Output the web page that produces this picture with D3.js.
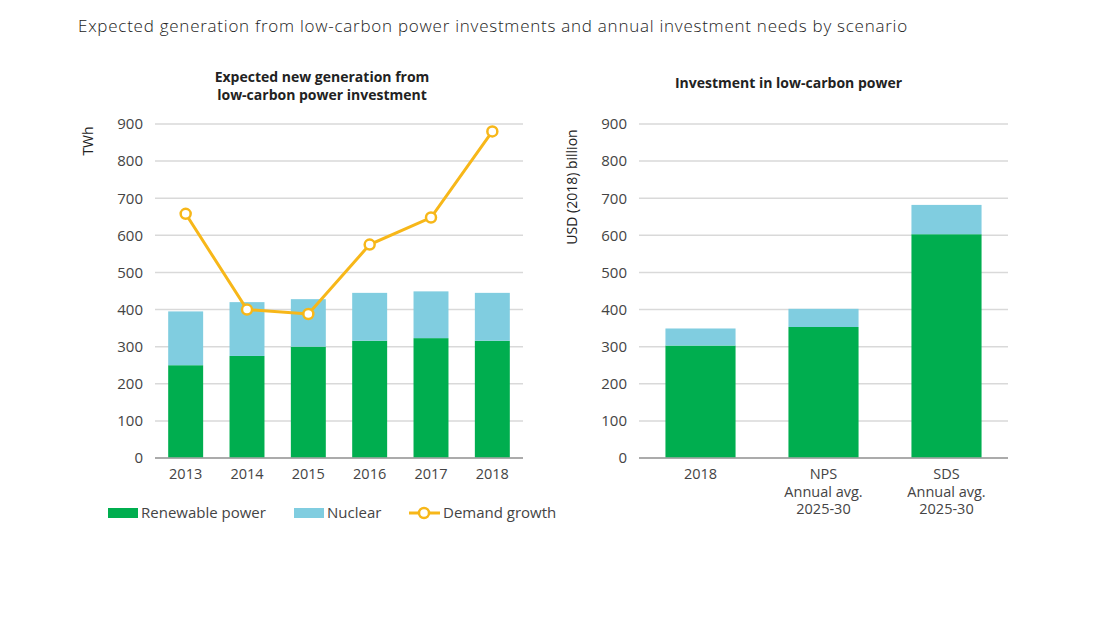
<!DOCTYPE html>
<html>
<head>
<meta charset="utf-8">
<script src="https://cdn.jsdelivr.net/npm/d3@7"></script>
<style>
  body { margin: 0; background: #fff; }
  svg text { font-family: "Open Sans", "Noto Sans", sans-serif; }
</style>
</head>
<body>
<svg id="chart" width="1100" height="619"></svg>
<script>
// left panel data
const years = ['2013', '2014', '2015', '2016', '2017', '2018'];
const renewableGen = [250, 275, 300, 316, 323, 316];
const nuclearGen = [145, 145, 128, 129, 126, 129];
const demandGrowth = [658, 400, 388, 575, 648, 880];

// right panel data
const scenarios = ['2018', 'NPS|Annual avg.|2025-30', 'SDS|Annual avg.|2025-30'];
const renewableInv = [303, 353, 603];
const nuclearInv = [46, 49, 79];

const yTicks = [0, 100, 200, 300, 400, 500, 600, 700, 800, 900];

const green = '#00ae4f';
const blue = '#80cde0';
const yellow = '#f7b719';
const textColor = '#444';

const svg = d3.select('#chart');

svg.append('text')
    .attr('x', 78)
    .attr('y', 32)
    .style('font-size', '17px')
    .style('font-weight', 300)
    .style('letter-spacing', '0.75px')
    .style('fill', '#222')
    .text('Expected generation from low-carbon power investments and annual investment needs by scenario');

function panel(opts) {
    const g = svg.append('g');
    const y = d3.scaleLinear().domain([0, 900]).range([458, 124]);
    const x = d3.scaleBand().domain(opts.cats).range([opts.left, opts.right]).paddingInner(0.43).paddingOuter(0.215);

    // gridlines
    g.append('g')
        .selectAll('line')
        .data(yTicks)
        .enter().append('line')
        .attr('x1', opts.left)
        .attr('x2', opts.right)
        .attr('y1', d => y(d))
        .attr('y2', d => y(d))
        .style('stroke', d => d === 0 ? '#a6a6a6' : '#d9d9d9')
        .style('stroke-width', 1.5);

    // y axis
    const yAxis = g.append('g')
        .attr('transform', `translate(${opts.left},0)`)
        .call(d3.axisLeft(y).tickValues(yTicks).tickSize(0).tickPadding(12));
    yAxis.select('.domain').remove();
    yAxis.selectAll('text')
        .style('font-size', '15px')
        .style('fill', textColor)
        .style('font-family', '"Open Sans", sans-serif');

    g.append('text')
        .attr('transform', `translate(${opts.ylabelX},${opts.ylabelY}) rotate(-90)`)
        .attr('text-anchor', 'middle')
        .style('font-size', '14px')
        .style('fill', '#222')
        .text(opts.ylabel);

    // stacked bars
    g.append('g').selectAll('rect.ren')
        .data(opts.cats)
        .enter().append('rect')
        .attr('x', d => x(d))
        .attr('width', x.bandwidth())
        .attr('y', (d, i) => y(opts.ren[i]))
        .attr('height', (d, i) => y(0) - y(opts.ren[i]))
        .attr('fill', green);

    g.append('g').selectAll('rect.nuc')
        .data(opts.cats)
        .enter().append('rect')
        .attr('x', d => x(d))
        .attr('width', x.bandwidth())
        .attr('y', (d, i) => y(opts.ren[i] + opts.nuc[i]))
        .attr('height', (d, i) => y(opts.ren[i]) - y(opts.ren[i] + opts.nuc[i]))
        .attr('fill', blue);

    // redraw baseline on top
    g.append('line')
        .attr('x1', opts.left).attr('x2', opts.right)
        .attr('y1', y(0)).attr('y2', y(0))
        .style('stroke', '#a6a6a6').style('stroke-width', 1.5);

    // x labels
    const xl = g.append('g').selectAll('text')
        .data(opts.cats)
        .enter().append('text')
        .attr('text-anchor', 'middle')
        .attr('x', d => x(d) + x.bandwidth() / 2)
        .attr('y', 479)
        .style('font-size', '14.5px')
        .style('fill', textColor);
    xl.selectAll('tspan')
        .data(d => d.split('|'))
        .enter().append('tspan')
        .attr('x', function () { return d3.select(this.parentNode).attr('x'); })
        .attr('dy', (d, i) => i === 0 ? 0 : 17.5)
        .text(d => d);

    // panel title
    const t = g.append('text')
        .attr('text-anchor', 'middle')
        .attr('x', (opts.left + opts.right) / 2 + opts.titleShift)
        .attr('y', opts.titleY)
        .style('font-size', '14px')
        .style('font-weight', 'bold')
        .style('fill', '#222');
    t.selectAll('tspan')
        .data(opts.title)
        .enter().append('tspan')
        .attr('x', (opts.left + opts.right) / 2 + opts.titleShift)
        .attr('dy', (d, i) => i === 0 ? 0 : 18)
        .text(d => d);

    return { x, y, g };
}

const left = panel({
    cats: years, ren: renewableGen, nuc: nuclearGen,
    left: 155, right: 523,
    ylabel: 'TWh', ylabelX: 93, ylabelY: 141,
    title: ['Expected new generation from', 'low-carbon power investment'],
    titleY: 82, titleShift: -17
});

panel({
    cats: scenarios, ren: renewableInv, nuc: nuclearInv,
    left: 639, right: 1008,
    ylabel: 'USD (2018) billion', ylabelX: 577, ylabelY: 187,
    title: ['Investment in low-carbon power'],
    titleY: 88, titleShift: -35
});

// demand growth line
const line = d3.line()
    .x((d, i) => left.x(years[i]) + left.x.bandwidth() / 2)
    .y(d => left.y(d));

left.g.append('path')
    .datum(demandGrowth)
    .attr('d', line)
    .attr('fill', 'none')
    .attr('stroke', yellow)
    .attr('stroke-width', 3);

left.g.selectAll('circle.dg')
    .data(demandGrowth)
    .enter().append('circle')
    .attr('cx', (d, i) => left.x(years[i]) + left.x.bandwidth() / 2)
    .attr('cy', d => left.y(d))
    .attr('r', 5)
    .attr('fill', '#fff')
    .attr('stroke', yellow)
    .attr('stroke-width', 2.5);

// legend
const legend = svg.append('g').attr('transform', 'translate(0,513)');
legend.append('rect').attr('x', 108).attr('y', -5).attr('width', 30).attr('height', 10).attr('fill', green);
legend.append('text').attr('x', 141).attr('y', 5).style('font-size', '15px').style('fill', textColor).text('Renewable power');
legend.append('rect').attr('x', 294).attr('y', -5).attr('width', 30).attr('height', 10).attr('fill', blue);
legend.append('text').attr('x', 327).attr('y', 5).style('font-size', '15px').style('fill', textColor).text('Nuclear');
legend.append('line').attr('x1', 409).attr('x2', 440).attr('y1', 0).attr('y2', 0).attr('stroke', yellow).attr('stroke-width', 3);
legend.append('circle').attr('cx', 424).attr('cy', 0).attr('r', 5).attr('fill', '#fff').attr('stroke', yellow).attr('stroke-width', 2.5);
legend.append('text').attr('x', 443).attr('y', 5).style('font-size', '15px').style('fill', textColor).text('Demand growth');
</script>
</body>
</html>
